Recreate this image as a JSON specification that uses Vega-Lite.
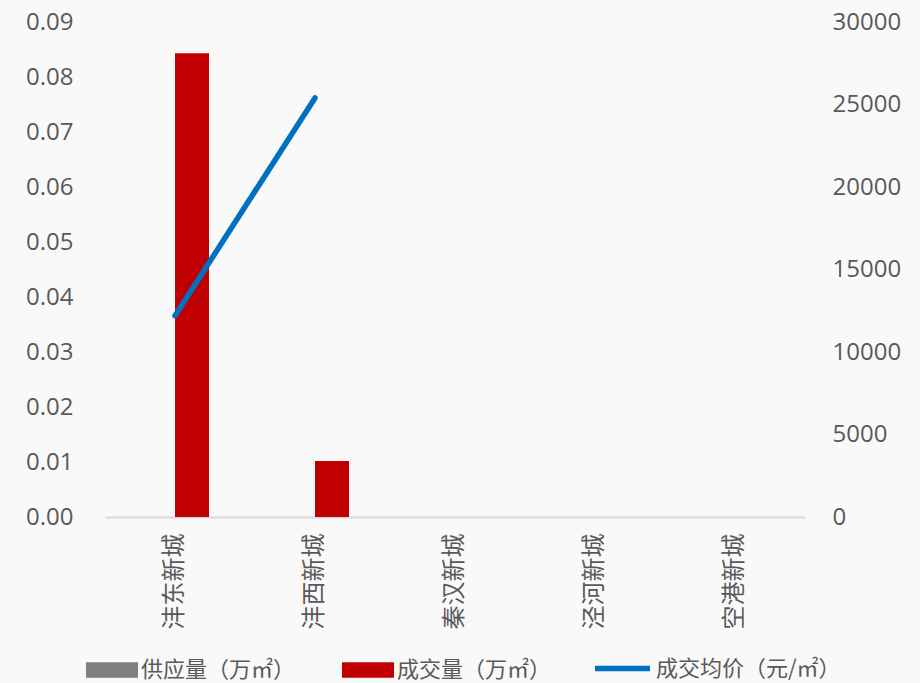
{
  "$schema": "https://vega.github.io/schema/vega-lite/v6.json",
  "width": 700,
  "height": 495,
  "autosize": {"type": "none"},
  "padding": {"left": 105, "top": 22, "right": 115, "bottom": 166},
  "background": "#f9f9f9",
  "config": {
    "view": {"stroke": null},
    "font": "Open Sans, Noto Sans CJK SC",
    "axis": {"labelFont": "Open Sans, Noto Sans CJK SC", "labelColor": "#595959", "labelFontSize": 24, "ticks": false, "grid": false, "title": null},
    "legend": {"labelFont": "Noto Sans CJK SC", "labelColor": "#595959", "labelFontSize": 22, "labelLimit": 400}
  },
  "datasets": {
    "bars": [
      {"city": "沣东新城", "series": "供应量（万㎡）", "value": 0},
      {"city": "沣东新城", "series": "成交量（万㎡）", "value": 0.0843},
      {"city": "沣西新城", "series": "供应量（万㎡）", "value": 0},
      {"city": "沣西新城", "series": "成交量（万㎡）", "value": 0.0102},
      {"city": "秦汉新城", "series": "供应量（万㎡）", "value": 0},
      {"city": "秦汉新城", "series": "成交量（万㎡）", "value": 0},
      {"city": "泾河新城", "series": "供应量（万㎡）", "value": 0},
      {"city": "泾河新城", "series": "成交量（万㎡）", "value": 0},
      {"city": "空港新城", "series": "供应量（万㎡）", "value": 0},
      {"city": "空港新城", "series": "成交量（万㎡）", "value": 0}
    ],
    "price": [
      {"city": "沣东新城", "series": "成交均价（元/㎡）", "price": 12200},
      {"city": "沣西新城", "series": "成交均价（元/㎡）", "price": 25400}
    ]
  },
  "encoding": {
    "x": {
      "field": "city",
      "type": "nominal",
      "sort": ["沣东新城", "沣西新城", "秦汉新城", "泾河新城", "空港新城"],
      "scale": {"paddingInner": 0.514, "paddingOuter": 0.257},
      "axis": {"labelAngle": -90, "labelPadding": 16, "domainColor": "#d9d9d9", "domainWidth": 2}
    }
  },
  "layer": [
    {
      "data": {"name": "bars"},
      "mark": {"type": "bar"},
      "encoding": {
        "xOffset": {"field": "series", "type": "nominal", "sort": ["供应量（万㎡）", "成交量（万㎡）"], "scale": {"paddingInner": 0, "paddingOuter": 0}},
        "y": {
          "field": "value",
          "type": "quantitative",
          "scale": {"domain": [0, 0.09], "nice": false},
          "axis": {"orient": "left", "values": [0, 0.01, 0.02, 0.03, 0.04, 0.05, 0.06, 0.07, 0.08, 0.09], "format": ".2f", "domain": false, "labelPadding": 32}
        },
        "fill": {
          "field": "series",
          "type": "nominal",
          "sort": ["供应量（万㎡）", "成交量（万㎡）"],
          "scale": {"domain": ["供应量（万㎡）", "成交量（万㎡）"], "range": ["#7f7f7f", "#c00000"]},
          "legend": {
            "title": null,
            "orient": "none",
            "direction": "horizontal",
            "legendX": -19,
            "legendY": 622,
            "symbolType": "M-1,-0.3H1V0.3H-1Z",
            "symbolSize": 2704,
            "symbolStrokeWidth": 0,
            "symbolOpacity": 1,
            "labelOffset": 3,
            "columnPadding": 46
          }
        }
      }
    },
    {
      "data": {"name": "price"},
      "mark": {"type": "line", "strokeWidth": 5.5, "strokeCap": "round"},
      "encoding": {
        "y": {
          "field": "price",
          "type": "quantitative",
          "scale": {"domain": [0, 30000], "nice": false},
          "axis": {"orient": "right", "values": [0, 5000, 10000, 15000, 20000, 25000, 30000], "format": "d", "domain": false, "labelPadding": 27}
        },
        "stroke": {
          "field": "series",
          "type": "nominal",
          "scale": {"domain": ["成交均价（元/㎡）"], "range": ["#0070c0"]},
          "legend": {
            "title": null,
            "orient": "none",
            "legendX": 487,
            "legendY": 616,
            "symbolType": "M-1,0H1",
            "symbolSize": 3025,
            "symbolStrokeWidth": 5.5,
            "labelOffset": 3
          }
        }
      }
    }
  ],
  "resolve": {"scale": {"y": "independent"}}
}
